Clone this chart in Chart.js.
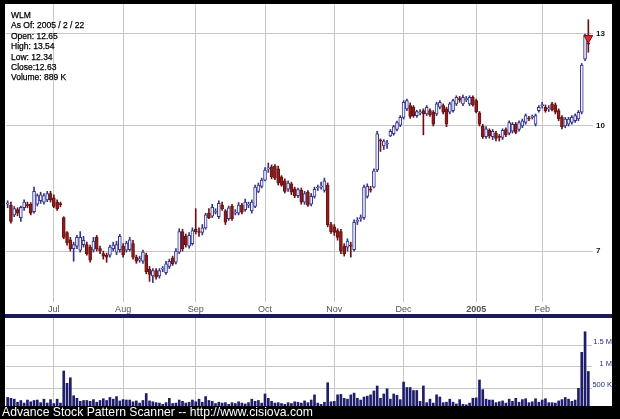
<!DOCTYPE html>
<html><head><meta charset="utf-8">
<script src="https://cdn.jsdelivr.net/npm/chart.js@4.4.0/dist/chart.umd.min.js"></script>
<style>
html,body{margin:0;padding:0;background:#000;width:620px;height:419px;overflow:hidden;position:relative;font-family:Arial,"Liberation Sans",sans-serif}
#price{position:absolute;left:5px;top:4px;background:#fff}
#sep{position:absolute;left:5px;top:314px;width:607px;height:4px;background:#1a1a5e}
#vol{position:absolute;left:5px;top:318px;background:#fff}
#footer{position:absolute;left:0;top:406px;width:620px;height:13px;background:#000;color:#fff;font-size:12.2px;line-height:13px;padding-left:2px;white-space:nowrap;box-sizing:border-box}
#info{position:absolute;left:11px;top:10px;font-size:8.5px;line-height:10.4px;color:#000;-webkit-text-stroke:0.25px #000;white-space:pre}
</style></head>
<body>
<canvas id="price" width="607" height="310"></canvas>
<div id="sep"></div>
<canvas id="vol" width="607" height="92"></canvas>
<div id="footer">Advance Stock Pattern Scanner -- http://www.cisiova.com</div>
<div id="info">WLM
As Of: 2005 / 2 / 22
Open: 12.65
High: 13.54
Low: 12.34
Close:12.63
Volume: 889 K</div>
<script>
// trading days per month
const jun04 = [10,14,15,16,17,18,21,22,23,24,25,28,29,30];
const jul04 = [1,2,6,7,8,9,12,13,14,15,16,19,20,21,22,23,26,27,28,29,30];
const aug04 = [2,3,4,5,6,9,10,11,12,13,16,17,18,19,20,23,24,25,26,27,30,31];
const sep04 = [1,2,3,7,8,9,10,13,14,15,16,17,20,21,22,23,24,27,28,29,30];
const oct04 = [1,4,5,6,7,8,11,12,13,14,15,18,19,20,21,22,25,26,27,28,29];
const nov04 = [1,2,3,4,5,8,9,10,11,12,15,16,17,18,19,22,23,24,26,29,30];
const dec04 = [1,2,3,6,7,8,9,10,13,14,15,16,17,20,21,22,23,27,28,29,30,31];
const jan05 = [3,4,5,6,7,10,11,12,13,14,18,19,20,21,24,25,26,27,28,31];
const feb05 = [1,2,3,4,7,8,9,10,11,14,15,16,17,18,22];
const months = ['2004-06','2004-07','2004-08','2004-09','2004-10','2004-11','2004-12','2005-01','2005-02'];
const monthLabels = ['', 'Jul','Aug','Sep','Oct','Nov','Dec','2005','Feb'];
const monthDays = [jun04,jul04,aug04,sep04,oct04,nov04,dec04,jan05,feb05];

const open = [
8.00,7.98,7.76,7.88,7.70,7.92,7.98,8.00,7.83,8.00,
8.08,8.05,8.10,8.25,8.15,8.05,8.00,7.70,7.38,7.23,
7.05,7.10,7.02,7.13,7.13,7.08,7.02,7.28,7.05,6.95,
6.92,6.92,7.05,6.98,7.03,7.10,7.02,7.03,7.15,6.88,
6.82,6.80,6.92,6.65,6.52,6.62,6.52,6.65,6.58,6.70,
6.86,6.78,6.98,7.40,7.30,7.10,7.15,7.45,7.40,7.38,
7.48,7.80,7.73,7.82,7.72,7.98,7.85,7.68,7.95,7.80,
7.80,7.98,7.88,7.98,7.85,7.95,8.30,8.42,8.57,8.85,
8.90,8.92,8.85,8.65,8.55,8.35,8.48,8.36,8.20,8.33,
8.05,8.28,8.00,8.18,8.38,8.40,8.32,8.45,7.55,7.50,
7.42,7.40,7.10,7.08,7.12,7.03,7.62,7.68,7.70,8.18,
8.35,8.40,8.82,9.60,9.45,9.50,9.72,9.78,9.90,10.02,
10.25,10.50,10.60,10.55,10.30,10.38,10.45,10.35,10.45,10.40,
10.35,10.55,10.60,10.50,10.40,10.45,10.65,10.80,10.65,10.78,
10.65,10.85,10.75,10.38,10.00,9.70,9.88,9.70,9.80,9.70,
9.68,9.90,9.80,9.85,10.05,9.90,10.00,10.10,10.22,10.25,
10.05,10.45,10.60,10.55,10.50,10.65,10.62,10.45,10.25,10.00,
10.05,10.10,10.15,10.20,10.40,12.10,12.65];
const high = [
8.08,8.05,7.95,7.92,7.96,8.10,8.05,8.04,8.40,8.24,
8.28,8.25,8.30,8.30,8.22,8.10,8.05,7.72,7.40,7.28,
7.18,7.32,7.40,7.30,7.18,7.12,7.28,7.32,7.10,7.00,
6.96,7.12,7.18,7.20,7.34,7.15,7.20,7.28,7.22,6.92,
6.90,7.02,6.96,6.70,6.66,6.66,6.66,6.70,6.80,6.84,
6.90,7.05,7.46,7.45,7.35,7.38,7.48,7.90,7.48,7.55,
7.80,7.90,8.00,7.90,8.08,8.05,7.88,7.96,8.00,7.88,
8.04,8.02,8.12,8.05,8.10,8.45,8.50,8.62,8.88,9.00,
8.95,8.96,8.92,8.68,8.60,8.55,8.52,8.40,8.38,8.38,
8.30,8.32,8.25,8.40,8.45,8.52,8.62,8.50,7.60,7.55,
7.46,7.45,7.15,7.25,7.18,7.65,7.70,7.76,8.45,8.48,
8.42,8.85,9.85,9.64,9.62,9.60,9.90,10.02,10.14,10.30,
10.75,10.80,10.68,10.60,10.46,10.48,10.50,10.60,10.50,10.45,
10.70,10.75,10.65,10.55,10.70,10.80,10.90,10.88,10.92,10.88,
10.90,10.90,10.80,10.42,10.05,9.98,9.92,9.90,9.85,9.76,
9.92,9.95,10.15,10.10,10.10,10.15,10.20,10.35,10.28,10.32,
10.35,10.60,10.70,10.62,10.60,10.70,10.68,10.50,10.30,10.25,
10.25,10.30,10.35,10.45,11.95,13.00,13.54];
const low = [
7.92,7.58,7.72,7.74,7.62,7.86,7.92,7.76,7.80,7.96,
8.02,8.00,8.06,8.05,7.92,7.86,7.94,7.25,7.12,7.00,
6.80,7.05,6.98,7.08,6.92,6.78,6.98,7.00,6.95,6.84,
6.78,6.88,7.00,6.93,6.98,6.88,6.98,7.00,6.84,6.76,
6.78,6.76,6.56,6.42,6.40,6.46,6.48,6.60,6.55,6.66,
6.72,6.75,6.95,7.00,7.08,7.06,7.12,7.35,7.30,7.33,
7.45,7.68,7.70,7.78,7.68,7.86,7.55,7.64,7.64,7.76,
7.76,7.78,7.84,7.92,7.80,7.92,8.27,8.38,8.55,8.76,
8.60,8.58,8.45,8.42,8.26,8.30,8.22,8.15,8.15,8.00,
8.00,7.95,7.96,8.14,8.32,8.35,8.28,7.50,7.36,7.32,
7.22,6.95,6.90,7.00,6.88,7.00,7.55,7.62,7.66,8.14,
8.28,8.38,8.78,9.30,9.35,9.38,9.70,9.74,9.86,9.98,
10.20,10.45,10.22,10.25,10.25,10.32,9.75,10.30,10.28,10.00,
10.30,10.50,10.35,9.98,10.35,10.40,10.60,10.70,10.60,10.72,
10.60,10.58,10.38,10.00,9.65,9.65,9.66,9.62,9.58,9.58,
9.62,9.70,9.75,9.80,9.78,9.85,9.95,10.05,10.15,10.20,
10.00,10.40,10.52,10.40,10.42,10.44,10.35,10.15,9.92,9.95,
10.00,10.05,10.10,10.15,10.35,12.05,12.34];
const close = [
8.03,7.62,7.90,7.80,7.93,8.05,7.97,7.80,8.30,8.20,
8.22,8.20,8.25,8.10,7.95,7.90,7.99,7.28,7.17,7.05,
7.13,7.28,7.28,7.22,6.95,6.82,7.20,7.05,7.00,6.90,
6.88,7.08,7.12,7.13,7.30,6.93,7.16,7.23,6.88,6.80,
6.85,6.98,6.60,6.55,6.62,6.50,6.62,6.66,6.75,6.80,
6.75,7.00,7.40,7.05,7.13,7.32,7.42,7.40,7.38,7.48,
7.76,7.70,7.93,7.82,8.02,7.90,7.60,7.92,7.68,7.82,
7.98,7.82,8.05,7.98,8.05,8.40,8.45,8.57,8.82,8.86,
8.65,8.62,8.50,8.45,8.30,8.50,8.28,8.20,8.34,8.05,
8.25,7.98,8.18,8.35,8.40,8.42,8.55,7.55,7.40,7.38,
7.28,7.00,6.95,7.20,7.10,7.60,7.63,7.70,8.40,8.42,
8.33,8.80,9.78,9.58,9.58,9.52,9.85,9.98,10.10,10.25,
10.70,10.75,10.28,10.30,10.42,10.40,10.35,10.55,10.32,10.05,
10.65,10.70,10.40,10.05,10.65,10.75,10.85,10.78,10.85,10.80,
10.85,10.62,10.42,10.05,9.70,9.92,9.72,9.85,9.65,9.68,
9.88,9.75,10.10,10.05,9.82,10.10,10.15,10.30,10.20,10.27,
10.30,10.55,10.62,10.45,10.52,10.48,10.40,10.20,9.98,10.20,
10.20,10.25,10.30,10.40,11.90,12.95,12.63];
// volume in thousands of shares
const volumeK = [
290,270,250,180,220,160,230,190,220,230,170,250,160,240,
150,250,160,
900,617,745,
330,270,200,220,220,200,240,180,220,260,220,290,250,310,210,
240,230,230,190,210,160,220,380,210,190,170,160,130,170,270,150,160,230,200,160,180,230,
190,250,180,310,220,200,150,180,160,170,130,170,150,190,160,140,170,250,200,220,160,
370,270,200,160,170,150,130,170,150,190,180,160,210,170,230,350,160,130,180,630,190,
200,350,360,270,250,350,390,270,230,300,320,350,440,555,270,370,490,250,370,340,240,
645,520,520,450,450,200,555,170,250,160,350,300,170,180,250,180,140,240,130,120,160,270,
280,693,470,250,230,230,170,190,210,160,250,200,270,180,240,260,170,190,260,180,
230,260,170,170,160,210,240,290,250,200,230,500,1332,1808,889];
const signalPrice = 12.85;       // pattern marker on last bar
const priceTicks = [7, 10, 13];
const volumeTicksK = [500, 1000, 1500];

// categories
const categories = [];
const catMonth = [];
monthDays.forEach((days, m) => days.forEach(d => {
  categories.push(months[m] + '-' + String(d).padStart(2,'0'));
  catMonth.push(m);
}));
const isMonthStart = i => i > 0 && catMonth[i] !== catMonth[i-1];
const gridCol = '#c6c6c6';
const upLine = '#34348a', upFill = '#eeeefa', dnLine = '#6a1212', dnFill = '#8e1e1e';
const noPad = s => { s.paddingTop = 0; s.paddingBottom = 0; s.paddingLeft = 0; s.paddingRight = 0; };

const bodies = open.map((o,i) => [o, close[i]]);
const wicks = low.map((l,i) => [l, high[i]]);
const isUp = open.map((o,i) => close[i] >= o);
const signal = categories.map((c,i) => i === categories.length-1 ? signalPrice : null);

new Chart(document.getElementById('price'), {
  data: {
    labels: categories,
    datasets: [
      { type:'line', data: signal, showLine:false, pointStyle:'triangle', rotation:180, pointRadius:5,
        backgroundColor:'#e8262a', borderColor:'#7a1010', borderWidth:1, order:0, clip:false },
      { type:'bar', data: bodies, backgroundColor: isUp.map(u => u ? upFill : dnFill),
        borderColor: isUp.map(u => u ? upLine : dnLine), borderWidth:1, borderSkipped:false,
        barThickness:3, minBarLength:1, grouped:false, order:1 },
      { type:'bar', data: wicks, backgroundColor: isUp.map(u => u ? upLine : dnLine),
        barThickness:1, grouped:false, order:2 }
    ]
  },
  options: {
    responsive:false, animation:false, devicePixelRatio:1,
    layout:{autoPadding:false, padding:{left:1,right:0,top:0,bottom:0}},
    plugins:{legend:{display:false}, tooltip:{enabled:false}},
    scales:{
      x:{ type:'category', offset:true,
        grid:{ offset:false, color: ctx => isMonthStart(ctx.index) ? gridCol : 'rgba(0,0,0,0)', tickLength:3 },
        border:{display:false},
        ticks:{ autoSkip:false, maxRotation:0, minRotation:0, padding:2, color:'#555',
          font: ctx => ({size:9, weight: (ctx.tick && ctx.tick.label === '2005') ? 'bold' : 'normal', family:'Arial'}),
          callback: (v,i) => isMonthStart(i) ? monthLabels[catMonth[i]] : '' },
        afterFit: s => { s.height = 15; noPad(s); }
      },
      y:{ type:'logarithmic', position:'right', min:6.106, max:14.16, bounds:'data',
        grid:{ color:gridCol, tickLength:3 },
        border:{display:false},
        afterBuildTicks: s => { s.ticks = priceTicks.map(v => ({value:v})); },
        ticks:{ padding:3, color:'#111', font:{size:8, weight:'bold', family:'Arial'}, callback: v => String(v) },
        afterFit: s => { s.width = 22; noPad(s); }
      }
    }
  }
});

new Chart(document.getElementById('vol'), {
  type:'bar',
  data:{ labels: categories, datasets:[{ data: volumeK.map(v => v*1000), backgroundColor:'#1e1e6a', barThickness:2 }] },
  options:{
    responsive:false, animation:false, devicePixelRatio:1,
    layout:{autoPadding:false, padding:{left:1,right:0,top:0,bottom:0}},
    plugins:{legend:{display:false}, tooltip:{enabled:false}},
    scales:{
      x:{ offset:true, grid:{ offset:false, drawTicks:false, color: ctx => isMonthStart(ctx.index) ? gridCol : 'rgba(0,0,0,0)' },
          border:{display:false}, ticks:{display:false}, afterFit: s => { s.height = 0; noPad(s); } },
      y:{ position:'right', min:0, max:2125000,
          grid:{ color:gridCol, tickLength:2 }, border:{display:false},
          afterBuildTicks: s => { s.ticks = volumeTicksK.map(v => ({value:v*1000})); },
          ticks:{ crossAlign:'far', labelOffset:-3, color:'#2a2a8c', font:{size:7.5, family:'Arial'},
            callback: v => v >= 1000000 ? (v/1000000) + ' M' : (v/1000) + ' K' },
          afterFit: s => { s.width = 22; noPad(s); } }
    }
  }
});
</script>
</body></html>
